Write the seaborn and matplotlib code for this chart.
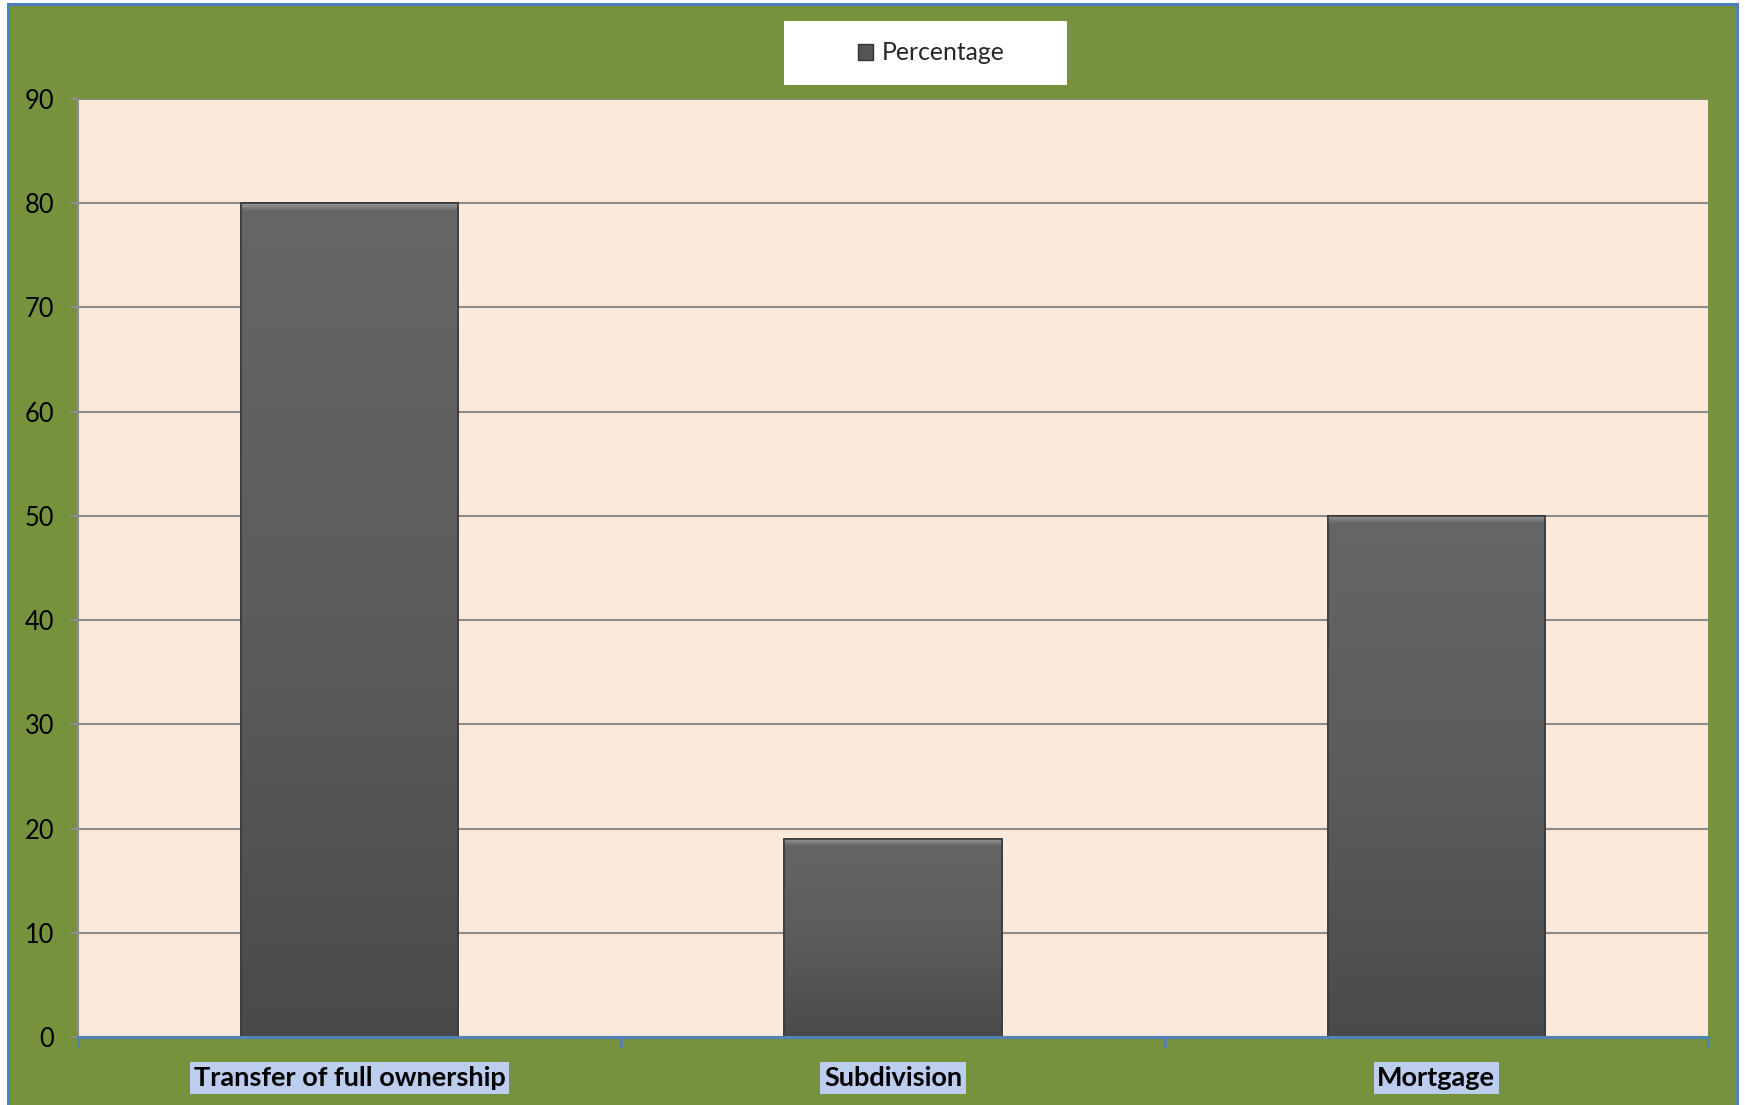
import numpy as np
import pandas as pd
import matplotlib
matplotlib.use("Agg")
import matplotlib.pyplot as plt
from matplotlib.patches import Rectangle, Patch
import seaborn as sns

categories = ["Transfer of full ownership", "Subdivision", "Mortgage"]
percentages = [80, 19, 50]
series_name = "Percentage"
y_ticks = [0, 10, 20, 30, 40, 50, 60, 70, 80, 90]

df = pd.DataFrame({"Category": categories, series_name: percentages})

sns.set_theme(style="white")
plt.rcParams["font.family"] = ["Lato", "DejaVu Sans"]

W, H = 1745, 1105
fig = plt.figure(figsize=(W / 100, H / 100), dpi=100, facecolor="white")

# green chart area with blue frame
fig.patches.append(Rectangle((8 / W, -0.02), (1737 - 8) / W, 1 - 4 / H + 0.02,
                             transform=fig.transFigure, facecolor="#77923c",
                             edgecolor="#4f81bd", linewidth=2.2, zorder=-10))

ax = fig.add_axes([78 / W, 1 - 1037 / H, (1708 - 78) / W, (1037 - 99) / H])
ax.set_zorder(1)
ax.set_facecolor("#fde9d9")

sns.barplot(data=df, x="Category", y=series_name, ax=ax, color="#595959",
            width=0.4, edgecolor="#3c3c3c", linewidth=1.2, zorder=3)

# vertical shading inside each bar
grad = np.linspace(0, 1, 256).reshape(-1, 1)
shade = matplotlib.colors.LinearSegmentedColormap.from_list(
    "bar", ["#4a4a4a", "#5c5c5c", "#666666"])
bevel = matplotlib.colors.LinearSegmentedColormap.from_list(
    "bevel", ["#666666", "#9c9c9c"])
for p in list(ax.patches):
    x0, y0 = p.get_x(), p.get_y()
    w, h = p.get_width(), p.get_height()
    im = ax.imshow(grad, cmap=shade, aspect="auto", origin="lower",
                   extent=(x0, x0 + w, y0, y0 + h), zorder=3.5)
    im.set_clip_path(p)
    # soft bevel along the top edge
    top = ax.imshow(grad, cmap=bevel, aspect="auto", origin="lower",
                    extent=(x0, x0 + w, y0 + h - 0.7, y0 + h), zorder=3.6)
    top.set_clip_path(p)
    ax.plot([x0, x0 + w, x0 + w, x0, x0], [y0, y0, y0 + h, y0 + h, y0],
            color="#3a3a3a", lw=1.2, zorder=3.7)

ax.set_xlim(-0.5, 2.5)
ax.set_ylim(0, 90)
ax.set_yticks(y_ticks)
ax.set_xlabel("")
ax.set_ylabel("")

ax.yaxis.grid(True, color="#8c8c8c", linewidth=1.5, zorder=1)
ax.set_axisbelow(True)

for s in ["top", "right"]:
    ax.spines[s].set_visible(False)
ax.spines["left"].set_color("#8c8c8c")
ax.spines["left"].set_linewidth(1.5)
ax.spines["bottom"].set_color("#4f81bd")
ax.spines["bottom"].set_linewidth(2.2)
ax.spines["bottom"].set_zorder(5)

ax.tick_params(axis="y", which="major", direction="out", length=6, width=1.5,
               color="#8c8c8c", pad=11, labelsize=18.4, labelcolor="black", left=True)
ax.tick_params(axis="x", which="major", length=0, pad=21, labelsize=19.5,
               labelcolor="black")
ax.set_xticks([-0.5, 0.5, 1.5, 2.5], minor=True)
ax.tick_params(axis="x", which="minor", direction="out", length=7, width=2,
               color="#4f81bd", bottom=True)

for lab in ax.get_xticklabels():
    lab.set_fontweight("bold")
    lab.set_bbox(dict(boxstyle="square,pad=0.14", facecolor="#bccdee",
                      edgecolor="none"))

# legend panel
fig.patches.append(Rectangle((784 / W, 1 - 85 / H), (1067 - 784) / W, 64 / H,
                             transform=fig.transFigure, facecolor="white",
                             edgecolor="none", zorder=-5))
handle = Patch(facecolor="#555555", edgecolor="#333333", label=series_name)
fig.legend(handles=[handle], loc="center", bbox_to_anchor=(931 / W, 1 - 53 / H),
           frameon=False, fontsize=17.8, handlelength=0.6, handleheight=0.6,
           handletextpad=0.35)

fig.savefig("out.png", dpi=100, facecolor="white")
